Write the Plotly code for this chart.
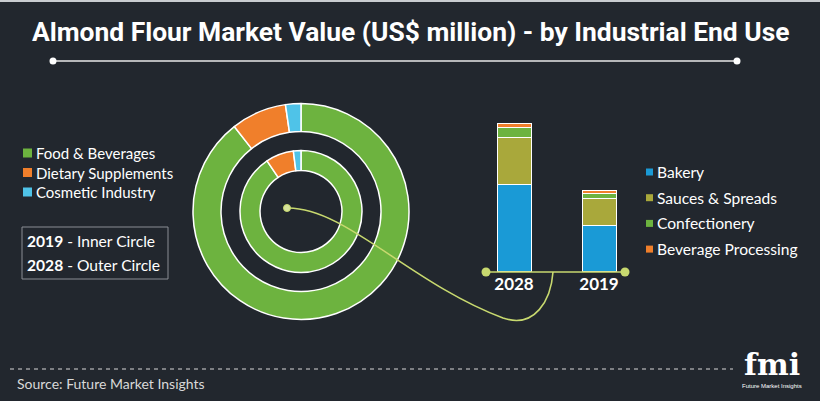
import plotly.graph_objects as go

W, H = 820, 401
BG = "#22272e"

# ---------------- data ----------------
pie_labels = ["Food & Beverages", "Dietary Supplements", "Cosmetic Industry"]
pie_colors = ["#6db33f", "#f07f2b", "#4fc3e8"]
share_2019 = [90.6, 7.4, 2.0]   # inner circle
share_2028 = [89.4, 8.3, 2.3]   # outer circle

years = ["2028", "2019"]
bar_series = ["Bakery", "Sauces & Spreads", "Confectionery", "Beverage Processing"]
bar_colors = ["#1a9ad6", "#a9a83b", "#6db33f", "#f07f2b"]
bakery = [87, 46]
sauces = [47, 27]
confectionery = [10, 5]
beverage = [4, 3]
bar_values = [bakery, sauces, confectionery, beverage]

title_text = "Almond Flour Market Value (US$ million) - by Industrial End Use"
source_text = "Source: Future Market Insights"


def fx(px):
    return px / W


def fy(py):
    return 1 - py / H


fig = go.Figure()

# ---------------- donuts ----------------
cx, cy = 301, 211.5
r_out, r_in = 108, 61
fig.add_trace(go.Pie(
    values=share_2028, labels=pie_labels, sort=False, direction="clockwise",
    rotation=0, hole=80 / 108, textinfo="none", showlegend=False,
    marker=dict(colors=pie_colors, line=dict(color="white", width=1.5)),
    domain=dict(x=[fx(cx - r_out), fx(cx + r_out)], y=[fy(cy + r_out), fy(cy - r_out)]),
    name="2028",
))
fig.add_trace(go.Pie(
    values=share_2019, labels=pie_labels, sort=False, direction="clockwise",
    rotation=0, hole=41 / 61, textinfo="none", showlegend=False,
    marker=dict(colors=pie_colors, line=dict(color="white", width=1.5)),
    domain=dict(x=[fx(cx - r_in), fx(cx + r_in)], y=[fy(cy + r_in), fy(cy - r_in)]),
    name="2019",
))

# ---------------- stacked bars ----------------
for name, vals, col in zip(bar_series, bar_values, bar_colors):
    fig.add_trace(go.Bar(
        x=years, y=vals, name=name, width=0.4, showlegend=False,
        marker=dict(color=col, line=dict(color="white", width=1)),
    ))

fig.update_layout(
    width=W, height=H, margin=dict(l=0, r=0, t=0, b=0),
    paper_bgcolor=BG, plot_bgcolor="rgba(0,0,0,0)",
    barmode="stack", bargap=0,
    xaxis=dict(domain=[fx(471.5), fx(641.5)], range=[-0.5, 1.5], type="category",
               showgrid=False, zeroline=False, showline=False, ticks="",
               tickfont=dict(family="Lato", size=17, color="white", weight="bold")),
    yaxis=dict(domain=[fy(272), fy(104)], range=[0, 168], visible=False, showgrid=False),
    font=dict(family="Lato", color="white"),
)

shapes = []
ann = []

# top thin border
shapes.append(dict(type="rect", xref="paper", yref="paper", x0=0, x1=1, y0=fy(2), y1=1,
                   fillcolor="#c9ccd0", line=dict(width=0)))

# title
ann.append(dict(text=title_text, x=fx(410), y=fy(32), xref="paper", yref="paper",
                showarrow=False, xanchor="center", yanchor="middle",
                font=dict(family="Roboto", size=26.4, color="white", weight="bold")))
# title underline with dots
shapes.append(dict(type="line", xref="paper", yref="paper", x0=fx(53), x1=fx(737),
                   y0=fy(61), y1=fy(61), line=dict(color="#e8e8e8", width=1.5)))
for px in (53, 737):
    shapes.append(dict(type="circle", xref="paper", yref="paper", x0=fx(px - 3.5), x1=fx(px + 3.5),
                       y0=fy(61 + 3.5), y1=fy(61 - 3.5), fillcolor="white", line=dict(width=0)))

# connector curve
curve_col = "#c8d96f"
path = ("M {a},{b} C {c},{d} {e},{f} {g},{h} C {i},{j} {k},{l} {m},{n}").format(
    a=fx(287), b=fy(208), c=fx(345), d=fy(207), e=fx(410), f=fy(283), g=fx(503), h=fy(318),
    i=fx(535), j=fy(329), k=fx(551), l=fy(300), m=fx(553), n=fy(272))
shapes.append(dict(type="path", xref="paper", yref="paper", path=path,
                   line=dict(color=curve_col, width=1.6)))
shapes.append(dict(type="circle", xref="paper", yref="paper", x0=fx(283.5), x1=fx(290.5),
                   y0=fy(211.5), y1=fy(204.5), fillcolor="#d6e29a", line=dict(color=curve_col, width=1)))

# bar baseline with dots
shapes.append(dict(type="line", xref="paper", yref="paper", x0=fx(486), x1=fx(625),
                   y0=fy(272), y1=fy(272), line=dict(color=curve_col, width=1.6)))
for px in (486, 625):
    shapes.append(dict(type="circle", xref="paper", yref="paper", x0=fx(px - 4.5), x1=fx(px + 4.5),
                       y0=fy(272 + 4.5), y1=fy(272 - 4.5), fillcolor=curve_col, line=dict(width=0)))

# left legend (pie)
for i, (lab, col) in enumerate(zip(pie_labels, pie_colors)):
    yy = 153 + i * 19.5
    shapes.append(dict(type="rect", xref="paper", yref="paper", x0=fx(23), x1=fx(32),
                       y0=fy(yy + 4.5), y1=fy(yy - 4.5), fillcolor=col, line=dict(width=0)))
    ann.append(dict(text=lab, x=fx(34), y=fy(yy), xref="paper", yref="paper", showarrow=False,
                    xanchor="left", yanchor="middle", font=dict(family="Lato", size=15, color="white")))

# inner/outer note box
shapes.append(dict(type="rect", xref="paper", yref="paper", x0=fx(22), x1=fx(168),
                   y0=fy(279), y1=fy(227), line=dict(color="#8a8e94", width=1)))
ann.append(dict(text="<b>2019</b> - Inner Circle", x=fx(25), y=fy(241), xref="paper", yref="paper",
                showarrow=False, xanchor="left", yanchor="middle",
                font=dict(family="Lato", size=15.6, color="white")))
ann.append(dict(text="<b>2028</b> - Outer Circle", x=fx(25), y=fy(265), xref="paper", yref="paper",
                showarrow=False, xanchor="left", yanchor="middle",
                font=dict(family="Lato", size=15.6, color="white")))

# right legend (bars)
for i, (lab, col) in enumerate(zip(bar_series, bar_colors)):
    yy = 172 + i * 25.7
    shapes.append(dict(type="rect", xref="paper", yref="paper", x0=fx(646), x1=fx(653),
                       y0=fy(yy + 3.5), y1=fy(yy - 3.5), fillcolor=col, line=dict(width=0)))
    ann.append(dict(text=lab, x=fx(655), y=fy(yy), xref="paper", yref="paper", showarrow=False,
                    xanchor="left", yanchor="middle", font=dict(family="Lato", size=15.6, color="white")))

# dashed footer line
shapes.append(dict(type="line", xref="paper", yref="paper", x0=fx(10), x1=fx(733),
                   y0=fy(369), y1=fy(369), line=dict(color="#d8d8d8", width=1, dash="4px,4px")))
ann.append(dict(text=source_text, x=fx(15), y=fy(383), xref="paper", yref="paper", showarrow=False,
                xanchor="left", yanchor="middle", font=dict(family="Lato", size=14, color="#d9d9d9")))

# fmi logo (text)
ann.append(dict(text="fmi", x=fx(772), y=fy(364), xref="paper", yref="paper", showarrow=False,
                xanchor="center", yanchor="middle",
                font=dict(family="DejaVu Serif", size=30, color="white", weight="bold")))
ann.append(dict(text="Future Market Insights", x=fx(772), y=fy(386), xref="paper", yref="paper",
                showarrow=False, xanchor="center", yanchor="middle",
                font=dict(family="Liberation Sans", size=6, color="white")))

fig.update_layout(shapes=shapes, annotations=ann)
fig.write_html("out.html", config={"displayModeBar": False},
               post_script="document.body.style.margin='0';document.body.style.overflow='hidden';")
